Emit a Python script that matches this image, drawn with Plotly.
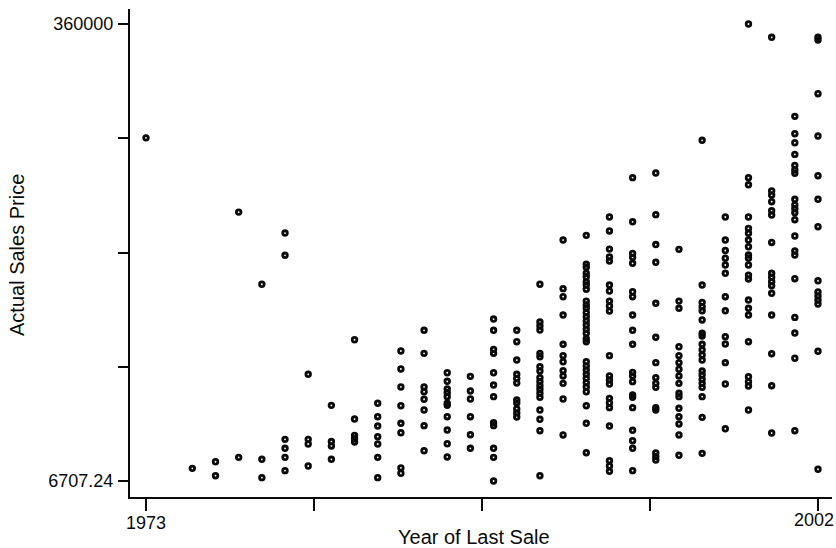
import plotly.graph_objects as go

# Actual sales price by year of last sale
p1973 = [272000]
p1975 = [16500]
p1976 = [21600, 10800]
p1977 = [214600, 25000]
p1978 = [158800, 23500, 9300]
p1979 = [198400, 181200, 38900, 32000, 25000, 14700]
p1980 = [89200, 38900, 35300, 18300]
p1981 = [65200, 37200, 33800, 23500]
p1982 = [115900, 54600, 42000, 39400, 36900]
p1983 = [66800, 56400, 49200, 41000, 35300, 25000, 9300]
p1984 = [107200, 93300, 79400, 64900, 51300, 44000, 16800, 12700]
p1985 = [123200, 105400, 79400, 75700, 69900, 61600, 49500, 30100]
p1986 = [90400, 83800, 77800, 75000, 71900, 66800, 65200, 56400, 46100, 35500, 25300]
p1987 = [87600, 76300, 70100, 56400, 42500, 32000]
p1988 = [131900, 123200, 108500, 105400, 90400, 80900, 71900, 51800, 49500,
         32000, 25000, 6707.24]
p1989 = [123200, 114400, 100200, 89200, 85900, 82500, 69300, 67000, 62400,
         59300, 56200]
p1990 = [158800, 129600, 126500, 123400, 105400, 102800, 95100, 91700, 86600,
         83500, 80400, 77600, 74500, 71400, 61600, 54400, 45600, 10800]
p1991 = [193000, 155400, 149200, 135000, 112400, 103600, 98900, 92000, 87900,
         82200, 70100, 42300]
p1992 = [196600, 174400, 171900, 167300, 164600, 160800, 158200, 154900,
         145800, 142800, 140200, 136800, 133700, 130400, 127300, 124000,
         120900, 116700, 114400, 98900, 95600, 92500, 89200, 86100, 82700,
         79400, 75700, 64900, 51300, 28600]
p1993 = [210800, 200000, 186000, 179900, 176800, 158200, 153600, 145800,
         142000, 138100, 103600, 87900, 84800, 81700, 70600, 67000, 63400,
         49200, 22400, 18300, 14200]
p1994 = [241200, 207100, 182700, 179600, 175000, 153000, 149200, 135000,
         123200, 112400, 90700, 87900, 83500, 73200, 71400, 63400, 45900,
         37900, 32000, 14700]
p1995 = [244800, 212600, 189500, 175800, 144100, 117800, 98200, 86600, 82200,
         79100, 63400, 61600, 28400, 25600, 22900]
p1996 = [185800, 145800, 140200, 110500, 103600, 98200, 93100, 87900, 82200,
         74500, 71900, 62900, 56400, 50800, 42300, 26600]
p1997 = [270100, 158200, 144800, 141400, 138300, 131200, 120900, 118800,
         112400, 108000, 104100, 100200, 91700, 88600, 85300, 82200, 79100,
         71900, 55900, 28100]
p1998 = [210800, 193000, 184900, 178900, 173700, 167300, 149200, 138300,
         118300, 112600, 98200, 81700, 47100]
p1999 = [360000, 241200, 235700, 210800, 202000, 198200, 193000, 187800,
         181400, 178900, 173700, 165900, 162900, 146600, 140200, 135000,
         114400, 87300, 83500, 80100, 61600]
p2000 = [349700, 230900, 227800, 222600, 215600, 212300, 191100, 167300,
         164200, 160800, 157700, 151800, 135000, 105100, 80400, 43800]
p2001 = [288600, 275200, 268200, 259200, 250700, 247100, 244600, 224500,
         220100, 217200, 214100, 208700, 196100, 184500, 181400, 163100,
         133200, 121100, 101600, 45600]
p2002 = [349700, 347600, 306100, 273400, 242700, 224500, 203300, 161500,
         152800, 149700, 146600, 143500, 107000, 15800]

price_by_year = {
    1973: p1973, 1975: p1975, 1976: p1976, 1977: p1977, 1978: p1978,
    1979: p1979, 1980: p1980, 1981: p1981, 1982: p1982, 1983: p1983,
    1984: p1984, 1985: p1985, 1986: p1986, 1987: p1987, 1988: p1988,
    1989: p1989, 1990: p1990, 1991: p1991, 1992: p1992, 1993: p1993,
    1994: p1994, 1995: p1995, 1996: p1996, 1997: p1997, 1998: p1998,
    1999: p1999, 2000: p2000, 2001: p2001, 2002: p2002,
}

x_tick_labels = ["1973", "", "", "", "2002"]
y_tick_labels = ["6707.24", "", "", "", "360000"]
x_title = "Year of Last Sale"
y_title = "Actual Sales Price"

years, prices = [], []
for yr, vals in price_by_year.items():
    years.extend([yr] * len(vals))
    prices.extend(vals)

xmin, xmax = min(years), max(years)
ymin, ymax = min(prices), max(prices)
xticks = [xmin + i * (xmax - xmin) / 4 for i in range(5)]
yticks = [ymin + i * (ymax - ymin) / 4 for i in range(5)]

# pixel geometry of the plot frame
L, R, T, B = 130, 4, 9, 51
W, H = 836, 548
pw, ph = W - L - R, H - T - B
# data extents sit inside the frame with a small offset
xppu = (818 - 146) / (xmax - xmin)
x_lo = xmin - (146 - L) / xppu
x_hi = xmax + ((W - R) - 818) / xppu
yppu = (481 - 24) / (ymax - ymin)
y_lo = ymin - ((H - B) - 481) / yppu
y_hi = ymax + (24 - T) / yppu

FONT = "Liberation Sans, Arial, Helvetica, sans-serif"
INK = "#0a0a0a"
XTICK_SIZE = 18

fig = go.Figure(go.Scatter(
    x=years, y=prices, mode="markers",
    marker=dict(symbol="circle-open", size=4.6, color=INK,
                line=dict(width=2.8, color=INK)),
    hoverinfo="x+y",
))

axis_common = dict(
    showgrid=False, zeroline=False, showline=True, linecolor=INK,
    linewidth=2.2, ticks="outside", tickcolor=INK, tickwidth=2.2,
    tickmode="array", mirror=False, automargin=False,
)
# x tick labels: every label except the one at the right edge is drawn by the
# axis; the right-edge label is right-aligned to stay inside the page.
fig.update_xaxes(range=[x_lo, x_hi], tickvals=xticks,
                 ticktext=x_tick_labels[:-1] + [""],
                 tickfont=dict(family=FONT, size=XTICK_SIZE, color=INK),
                 ticklen=12, ticklabelstandoff=-4, **axis_common)
fig.update_yaxes(range=[y_lo, y_hi], tickvals=yticks, ticktext=y_tick_labels,
                 tickfont=dict(family=FONT, size=18, color=INK),
                 ticklen=10, ticklabelstandoff=1, **axis_common)

fig.add_annotation(text=x_tick_labels[-1], xref="x", yref="paper",
                   x=xticks[-1], y=0, xanchor="right", yanchor="middle",
                   xshift=W - 818, yshift=-(520 - (H - B)),
                   showarrow=False,
                   font=dict(family=FONT, size=XTICK_SIZE, color=INK))

fig.add_annotation(text=x_title, xref="paper", yref="paper",
                   x=(474 - L) / pw, y=0, yanchor="middle", xanchor="center",
                   yshift=-(537 - (H - B)), showarrow=False,
                   font=dict(family=FONT, size=20, color=INK))
fig.add_annotation(text=y_title, xref="paper", yref="paper",
                   x=0, xshift=17 - L, y=((H - B) - 255) / ph,
                   xanchor="center", yanchor="middle", textangle=-90,
                   showarrow=False, font=dict(family=FONT, size=20, color=INK))

fig.update_layout(
    width=W, height=H, margin=dict(l=L, r=R, t=T, b=B, autoexpand=False),
    paper_bgcolor="white", plot_bgcolor="white", showlegend=False,
)

fig.write_html("out.html", config={"displayModeBar": False},
               post_script="document.body.style.margin='0';"
                           "document.body.style.overflow='hidden';")
